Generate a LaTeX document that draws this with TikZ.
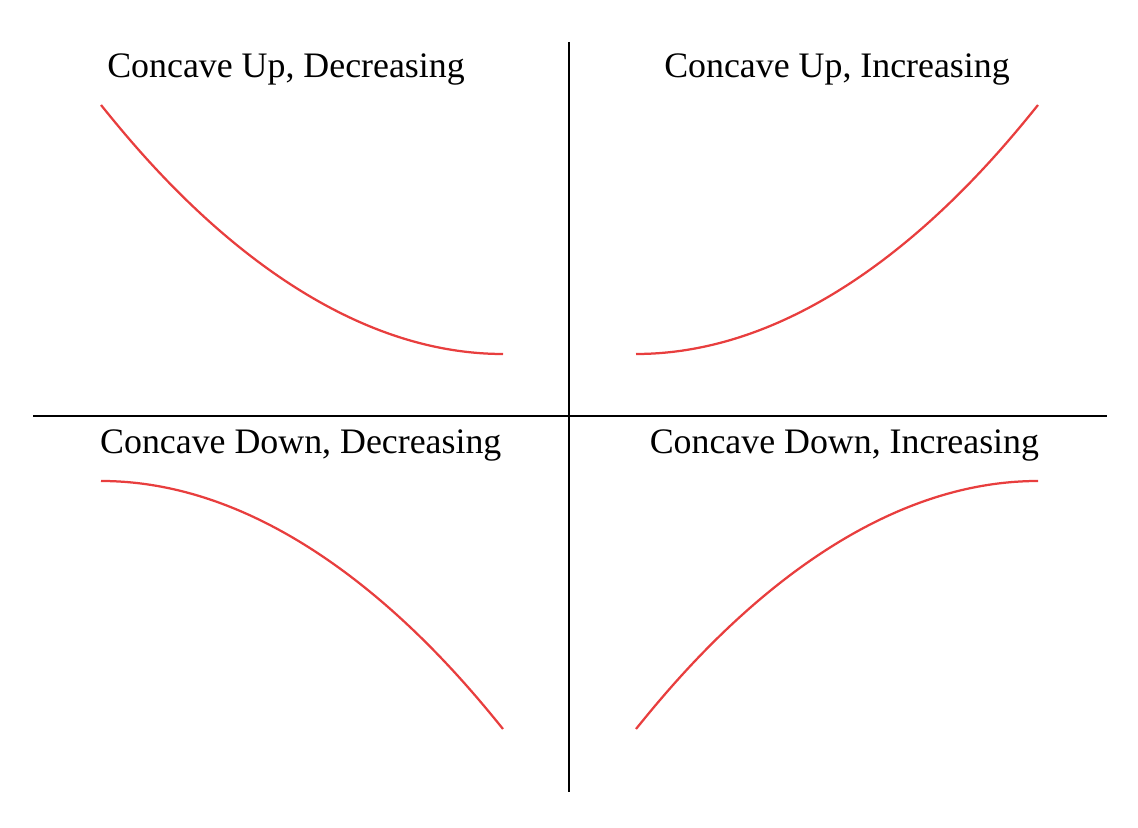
\documentclass[tikz,border=0pt]{standalone}
\usepackage{fontspec}
\setmainfont{Liberation Serif}
\usepackage{tikz}
\definecolor{curvered}{RGB}{232,62,62}

\begin{document}
\begin{tikzpicture}[scale=1,
  axis/.style={line width=1.4pt, black},
  curve/.style={line width=1.6pt, curvered},
  caption/.style={font=\fontsize{25.5}{30}\selectfont, inner sep=0pt}]
\useasboundingbox (0,0) rectangle (28.45,20.7);
% axes
\coordinate (top) at (14.225,19.65);
\coordinate (bottom) at (14.225,0.9);
\coordinate (left) at (0.825,10.3);
\coordinate (right) at (27.675,10.3);
\draw[axis] (top) -- (bottom);
\draw[axis] (left) -- (right);
% labels
\node[caption] (upDec) at (7.15,18.95) {Concave Up, Decreasing};
\node[caption] (upInc) at (20.925,18.95) {Concave Up, Increasing};
\node[caption] (downDec) at (7.52,9.55) {Concave Down, Decreasing};
\node[caption] (downInc) at (21.11,9.55) {Concave Down, Increasing};
% curves
\coordinate (tlV) at (12.575,11.85);
\coordinate (tlE) at (2.525,18.075);
\coordinate (trV) at (15.9,11.85);
\coordinate (trE) at (25.95,18.075);
\coordinate (blV) at (2.525,8.675);
\coordinate (blE) at (12.575,2.475);
\coordinate (brV) at (25.95,8.675);
\coordinate (brE) at (15.9,2.475);
\draw[curve] (tlV) parabola (tlE);
\draw[curve] (trV) parabola (trE);
\draw[curve] (blV) parabola (blE);
\draw[curve] (brV) parabola (brE);
\end{tikzpicture}
\end{document}
